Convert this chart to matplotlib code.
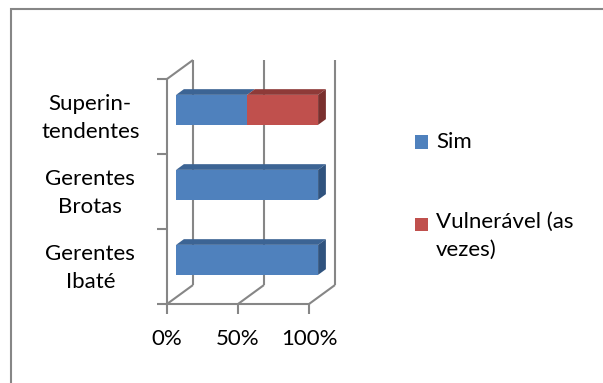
import matplotlib
matplotlib.use("Agg")
import matplotlib.pyplot as plt
from matplotlib.patches import Rectangle

categories = ["Superin-\ntendentes", "Gerentes\nBrotas", "Gerentes\nIbaté"]
sim = [50, 100, 100]
vulneravel = [50, 0, 0]
series_names = ["Sim", "Vulnerável (as\nvezes)"]
xticks = [0, 50, 100]
xticklabels = ["0%", "50%", "100%"]

plt.rcParams['font.family'] = ['Lato', 'DejaVu Sans']
W, H = 603, 383
fig = plt.figure(figsize=(W / 100, H / 100), dpi=100)
ax = fig.add_axes([167 / W, (H - 304) / H, 142 / W, 225 / H])
ax.set_xlim(0, 100)
ax.set_ylim(3, 0)
ax.patch.set_visible(False)

grid = '#868686'
# depth of the 3d box in data units
DX, DY = 18.3, 0.253


def proj(x, y, d):
    return x + d * DX, y - d * DY


def line3d(p, q, **kw):
    xs, ys = zip(p, q)
    ax.plot(xs, ys, color=grid, lw=1.5, clip_on=False, solid_capstyle='butt', **kw)


# walls and floor
for x in xticks:
    line3d(proj(x, 3, 1), proj(x, 0, 1), zorder=1)
    line3d(proj(x, 3, 0), proj(x, 3, 1), zorder=1)
line3d(proj(0, 0, 0), proj(0, 0, 1), zorder=1)

for s in ['top', 'right']:
    ax.spines[s].set_visible(False)
for s in ['left', 'bottom']:
    ax.spines[s].set_color(grid)
    ax.spines[s].set_linewidth(1.5)
ax.set_xticks(xticks)
ax.set_xticklabels(xticklabels, fontsize=16)
ax.set_yticks([0, 1, 2, 3])
ax.set_yticklabels([])
ax.tick_params(axis='both', color=grid, width=1.5, length=7)
ax.tick_params(axis='x', pad=11)

# category labels
for i, lab in enumerate(categories):
    ax.text(-54, i + 0.52, lab, ha='center', va='center', fontsize=16,
            linespacing=1.5, clip_on=False)

front = ['#4F81BD', '#C0504D']
top = ['#3C6494', '#8E3A38']
side = ['#30537E', '#7A302E']
d0, d1 = 0.35, 0.65
h = 0.4


def poly(pts, color, z):
    xs, ys = zip(*pts)
    ax.fill(xs, ys, color=color, lw=0, clip_on=False, zorder=z)


for i in range(len(categories)):
    c = i + 0.5
    yt, yb = c - h / 2, c + h / 2
    left = 0
    segs = [(sim[i], 0), (vulneravel[i], 1)]
    segs = [s for s in segs if s[0] > 0]
    for k, (w, si) in enumerate(segs):
        r = left + w
        poly([proj(left, yt, d0), proj(r, yt, d0), proj(r, yb, d0), proj(left, yb, d0)],
             front[si], 3)
        poly([proj(left, yt, d0), proj(r, yt, d0), proj(r, yt, d1), proj(left, yt, d1)],
             top[si], 3)
        if k == len(segs) - 1:
            poly([proj(r, yt, d0), proj(r, yt, d1), proj(r, yb, d1), proj(r, yb, d0)],
                 side[si], 3)
        left = r

# legend
leg_y = [142, 224]
for name, col, y in zip(series_names, front, leg_y):
    fig.add_artist(Rectangle((415 / W, (H - y - 6.5) / H), 13 / W, 13 / H,
                             transform=fig.transFigure, color=col, lw=0))
    fig.text(436 / W, (H - y + 12) / H if '\n' in name else (H - y) / H, name,
             fontsize=16, va='top' if '\n' in name else 'center', linespacing=1.5)

# outer frame
fig.add_artist(Rectangle((11 / W, -0.1), 2, (H - 9) / H + 0.1, transform=fig.transFigure,
                         fill=False, edgecolor=grid, lw=1.5))

fig.savefig("out.png", dpi=100)
